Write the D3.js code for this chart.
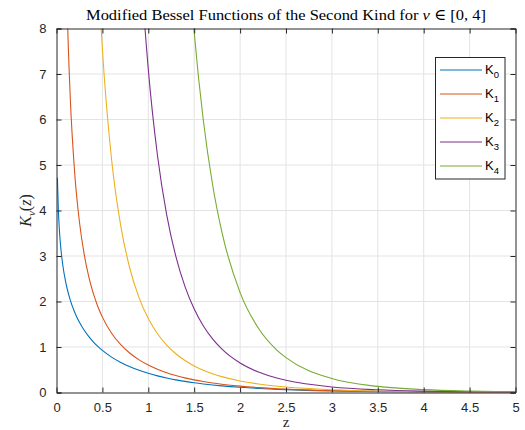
<!DOCTYPE html>
<html>
<head>
<meta charset="utf-8">
<script src="https://cdn.jsdelivr.net/npm/d3@7"></script>
<style>
  html, body { margin: 0; padding: 0; background: #fff; }
  svg { display: block; }
</style>
</head>
<body>
<svg id="chart" width="525" height="430"></svg>
<script>
// Modified Bessel functions of the second kind, K_nu(z), tabulated per order
const zK0 = [0.01, 0.02, 0.03, 0.04, 0.05, 0.07, 0.1, 0.15, 0.2, 0.25, 0.3, 0.35, 0.4, 0.45, 0.5, 0.6, 0.7, 0.8, 0.9, 1.0, 1.1, 1.2, 1.3, 1.4, 1.5, 1.6, 1.7, 1.8, 2.0, 2.2, 2.5, 3.0, 3.5, 4.0, 4.5, 5.0];
const K0 = [4.7212, 4.0284, 3.6233, 3.3367, 3.1142, 2.7798, 2.4271, 2.0300, 1.7527, 1.5415, 1.3725, 1.2328, 1.1145, 1.0130, 0.9244, 0.7775, 0.6605, 0.5653, 0.4867, 0.4210, 0.3656, 0.3185, 0.2782, 0.2437, 0.2138, 0.1880, 0.1655, 0.1459, 0.1139, 0.08927, 0.06235, 0.03474, 0.01960, 0.01116, 0.00640, 0.003691];

const zK1 = [0.1, 0.12, 0.15, 0.2, 0.25, 0.3, 0.35, 0.4, 0.45, 0.5, 0.6, 0.7, 0.8, 0.9, 1.0, 1.1, 1.2, 1.3, 1.4, 1.5, 1.6, 1.7, 1.8, 2.0, 2.2, 2.5, 3.0, 3.5, 4.0, 4.5, 5.0];
const K1 = [9.8538, 8.169, 6.4775, 4.7760, 3.7470, 3.0560, 2.559, 2.1844, 1.8916, 1.6564, 1.3028, 1.0503, 0.8618, 0.7165, 0.6019, 0.5098, 0.4346, 0.3725, 0.3208, 0.2774, 0.2406, 0.2094, 0.1826, 0.1399, 0.1079, 0.07389, 0.04016, 0.02224, 0.01248, 0.007078, 0.004045];

const zK2 = [0.4, 0.45, 0.5, 0.6, 0.7, 0.8, 0.9, 1.0, 1.1, 1.2, 1.3, 1.4, 1.5, 1.6, 1.7, 1.8, 2.0, 2.2, 2.5, 3.0, 3.5, 4.0, 4.5, 5.0];
const K2 = [12.036, 9.420, 7.550, 5.120, 3.661, 2.720, 2.079, 1.6248, 1.2925, 1.0428, 0.8513, 0.7020, 0.5837, 0.4888, 0.4119, 0.3488, 0.2538, 0.1874, 0.1215, 0.06151, 0.03231, 0.01740, 0.009546, 0.005309];

const zK3 = [0.8, 0.9, 1.0, 1.1, 1.2, 1.3, 1.4, 1.5, 1.6, 1.7, 1.8, 2.0, 2.2, 2.4, 2.5, 3.0, 3.5, 4.0, 4.5, 5.0];
const K3 = [14.46, 9.957, 7.101, 5.210, 3.910, 2.9919, 2.326, 1.8339, 1.4626, 1.1786, 0.9577, 0.6475, 0.4486, 0.3170, 0.2683, 0.1222, 0.05917, 0.02988, 0.01556, 0.008292];

const zK4 = [1.4, 1.5, 1.6, 1.7, 1.8, 2.0, 2.2, 2.4, 2.5, 3.0, 3.5, 4.0, 4.5, 5.0];
const K4 = [10.67, 7.919, 5.973, 4.572, 3.541, 2.196, 1.4109, 0.9325, 0.7654, 0.3059, 0.1337, 0.06222, 0.03029, 0.01526];

const seriesNames = ["K0", "K1", "K2", "K3", "K4"];
const seriesColors = ["#0072BD", "#D95319", "#EDB120", "#7E2F8E", "#77AC30"];
const xTicks = [0, 0.5, 1, 1.5, 2, 2.5, 3, 3.5, 4, 4.5, 5];
const yTicks = [0, 1, 2, 3, 4, 5, 6, 7, 8];

const zs = [zK0, zK1, zK2, zK3, zK4];
const vals = [K0, K1, K2, K3, K4];
const series = seriesNames.map((name, i) => ({
  name, color: seriesColors[i],
  points: zs[i].map((z, j) => ({ z, v: vals[i][j] }))
}));

const svg = d3.select("#chart");
const m = { left: 56.5, top: 28.5, right: 515.5, bottom: 392.5 };
const W = m.right - m.left, H = m.bottom - m.top;

const x = d3.scaleLinear().domain([0, 5]).range([m.left, m.right]);
const y = d3.scaleLinear().domain([0, 8]).range([m.bottom, m.top]);

const axisColor = "#262626";
const gridColor = "#e3e3e3";

svg.append("defs").append("clipPath").attr("id", "plotclip")
  .append("rect").attr("x", m.left).attr("y", m.top).attr("width", W).attr("height", H);

// grid
const grid = svg.append("g");
grid.selectAll(".gx").data(xTicks.slice(1, -1)).join("line")
  .attr("x1", d => x(d)).attr("x2", d => x(d))
  .attr("y1", m.top).attr("y2", m.bottom)
  .attr("stroke", gridColor).attr("stroke-width", 1);
grid.selectAll(".gy").data(yTicks.slice(1, -1)).join("line")
  .attr("x1", m.left).attr("x2", m.right)
  .attr("y1", d => y(d)).attr("y2", d => y(d))
  .attr("stroke", gridColor).attr("stroke-width", 1);

// curves
const line = d3.line().x(d => x(d.z)).y(d => y(d.v)).curve(d3.curveMonotoneX);
svg.append("g").attr("clip-path", "url(#plotclip)")
  .selectAll("path").data(series).join("path")
  .attr("d", d => line(d.points))
  .attr("fill", "none")
  .attr("stroke", d => d.color)
  .attr("stroke-width", 1.1);

// axes (ticks pointing inward, box on)
const fontUI = "Helvetica, Arial, 'Liberation Sans', sans-serif";
const xAxis = d3.axisBottom(x).tickValues(xTicks).tickFormat(d3.format("")).tickSize(-5).tickPadding(10);
const yAxis = d3.axisLeft(y).tickValues(yTicks).tickFormat(d3.format("")).tickSize(-5).tickPadding(10);
const xTop = d3.axisTop(x).tickValues(xTicks).tickFormat("").tickSize(-5);
const yRight = d3.axisRight(y).tickValues(yTicks).tickFormat("").tickSize(-5);

function styleAxis(g) {
  g.select(".domain").attr("stroke", axisColor).attr("stroke-width", 1);
  g.selectAll(".tick line").attr("stroke", axisColor);
  g.selectAll(".tick text").attr("fill", axisColor).style("font-family", fontUI).style("font-size", "13px");
}
svg.append("g").attr("transform", `translate(0,${m.bottom})`).call(xAxis).call(styleAxis);
svg.append("g").attr("transform", `translate(${m.left},0)`).call(yAxis).call(styleAxis);
svg.append("g").attr("transform", `translate(0,${m.top})`).call(xTop).call(styleAxis);
svg.append("g").attr("transform", `translate(${m.right},0)`).call(yRight).call(styleAxis);
svg.selectAll(".domain").attr("d", function () { return d3.select(this).attr("d").replace(/M([^,]+),-?5V0/, "M$1,0").replace(/V-?5$/, ""); });

// title and labels
const title = svg.append("text").attr("x", (m.left + m.right) / 2).attr("y", 20)
  .attr("text-anchor", "middle").attr("fill", "#000")
  .attr("textLength", 400).attr("lengthAdjust", "spacingAndGlyphs")
  .style("font-family", "'Liberation Serif', 'DejaVu Serif', serif").style("font-size", "15.5px");
title.append("tspan").text("Modified Bessel Functions of the Second Kind for ");
title.append("tspan").attr("font-style", "italic").text("ν");
title.append("tspan").text(" ∈ [0, 4]");

svg.append("text").attr("x", (m.left + m.right) / 2).attr("y", 427)
  .attr("text-anchor", "middle").attr("fill", "#262626")
  .style("font-family", "'Liberation Serif', serif").style("font-size", "15px").text("z");

const ylab = svg.append("text")
  .attr("transform", `translate(31,${(m.top + m.bottom) / 2}) rotate(-90)`)
  .attr("text-anchor", "middle").attr("fill", "#262626")
  .style("font-family", "'Liberation Serif', serif").style("font-size", "16px");
ylab.append("tspan").attr("font-style", "italic").text("K");
ylab.append("tspan").attr("font-style", "italic").attr("font-size", "11px").attr("dy", 4).text("ν");
ylab.append("tspan").attr("dy", -4).text("(");
ylab.append("tspan").attr("font-style", "italic").text("z");
ylab.append("tspan").text(")");

// legend
const lg = svg.append("g");
lg.append("rect").attr("x", 435.5).attr("y", 57.5).attr("width", 69.5).attr("height", 121.5)
  .attr("fill", "#fff").attr("stroke", axisColor).attr("stroke-width", 1);
const rowY = i => 70 + i * 24;
lg.selectAll("line").data(series).join("line")
  .attr("x1", 440).attr("x2", 482)
  .attr("y1", (d, i) => rowY(i)).attr("y2", (d, i) => rowY(i))
  .attr("stroke", d => d.color).attr("stroke-width", 1.1);
const lt = lg.selectAll("text").data(series).join("text")
  .attr("x", 485).attr("y", (d, i) => rowY(i) + 4)
  .attr("fill", "#000").style("font-family", fontUI).style("font-size", "13px");
lt.append("tspan").text("K");
lt.append("tspan").attr("font-size", "9.5px").attr("dy", 4).text(d => d.name.slice(1));
</script>
</body>
</html>
